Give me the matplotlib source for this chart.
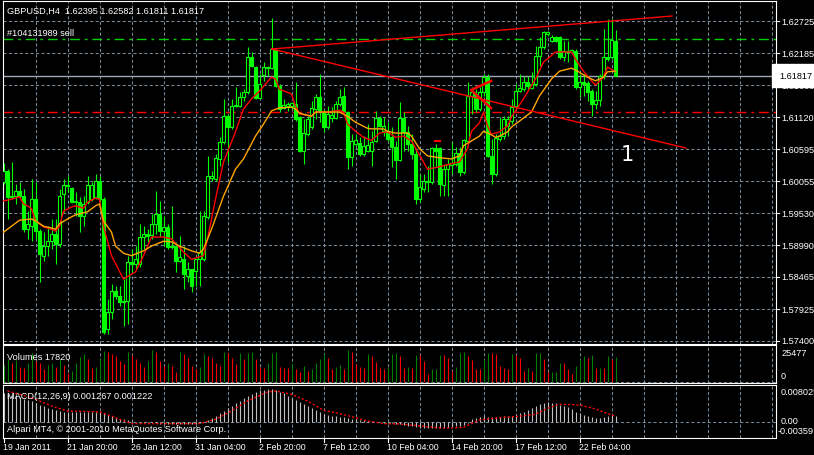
import numpy as np
import matplotlib
matplotlib.use('Agg')
import matplotlib.pyplot as plt
from matplotlib.transforms import blended_transform_factory as blend

W, H = 814, 456
plt.rcParams['font.family'] = ['Liberation Sans', 'DejaVu Sans']

# GBPUSD H4 candles, one per bar (bar 0 = 19 Jan 2011 04:00)
opens = [
    1.6005, 1.6023, 1.5980, 1.5981, 1.5990, 1.5981, 1.5926, 1.5931, 1.5976, 1.5923,
    1.5882, 1.5898, 1.5906, 1.5918, 1.5901, 1.5985, 1.6000, 1.5995, 1.5971, 1.5971,
    1.5948, 1.5971, 1.5976, 1.5980, 1.6006, 1.5976, 1.5760, 1.5788, 1.5823, 1.5815,
    1.5805, 1.5807, 1.5871, 1.5868, 1.5868, 1.5913, 1.5918, 1.5916, 1.5935, 1.5951,
    1.5923, 1.5930, 1.5898, 1.5898, 1.5873, 1.5876, 1.5848, 1.5860, 1.5857, 1.5876,
    1.5876, 1.5946, 1.6011, 1.6010, 1.6043, 1.6071, 1.6114, 1.6096, 1.6131, 1.6131,
    1.6146, 1.6154, 1.6213, 1.6196, 1.6144, 1.6183, 1.6194, 1.6194, 1.6224, 1.6164,
    1.6128, 1.6131, 1.6131, 1.6134, 1.6113, 1.6056, 1.6085, 1.6096, 1.6126, 1.6146,
    1.6121, 1.6096, 1.6111, 1.6111, 1.6134, 1.6148, 1.6121, 1.6046, 1.6068, 1.6069,
    1.6051, 1.6056, 1.6056, 1.6073, 1.6111, 1.6089, 1.6089, 1.6080, 1.6063, 1.6041,
    1.6111, 1.6088, 1.6068, 1.6051, 1.5976, 1.5993, 1.6006, 1.6005, 1.6061, 1.6061,
    1.6000, 1.6026, 1.6033, 1.6035, 1.6053, 1.6021, 1.6073, 1.6148, 1.6151, 1.6126,
    1.6154, 1.6179, 1.6048, 1.6018, 1.6076, 1.6081, 1.6098, 1.6106, 1.6131, 1.6156,
    1.6159, 1.6171, 1.6161, 1.6168, 1.6214, 1.6229, 1.6251, 1.6239, 1.6246, 1.6246,
    1.6213, 1.6223, 1.6221, 1.6223, 1.6163, 1.6171, 1.6169, 1.6156, 1.6134, 1.6141,
    1.6181, 1.6213, 1.6213, 1.62395]
highs = [
    1.6036, 1.6026, 1.6038, 1.6001, 1.6005, 1.5993, 1.5956, 1.6010, 1.6005, 1.5926,
    1.5921, 1.5931, 1.5943, 1.5943, 1.5993, 1.6010, 1.6015, 1.5996, 1.5988, 1.5980,
    1.5981, 1.6015, 1.6005, 1.6018, 1.6015, 1.5980, 1.5810, 1.5835, 1.5832, 1.5832,
    1.5843, 1.5882, 1.5893, 1.5898, 1.5935, 1.5931, 1.5926, 1.5951, 1.5990, 1.5973,
    1.5948, 1.5935, 1.5965, 1.5905, 1.5915, 1.5898, 1.5871, 1.5860, 1.5876, 1.5956,
    1.5956, 1.6048, 1.6023, 1.6051, 1.6080, 1.6143, 1.6118, 1.6143, 1.6163, 1.6154,
    1.6159, 1.6229, 1.6221, 1.6198, 1.6184, 1.6204, 1.6198, 1.6278, 1.6226, 1.6168,
    1.6143, 1.6138, 1.6138, 1.6171, 1.6114, 1.6109, 1.6114, 1.6139, 1.6151, 1.6184,
    1.6126, 1.6131, 1.6129, 1.6139, 1.6159, 1.6163, 1.6123, 1.6085, 1.6085, 1.6080,
    1.6081, 1.6101, 1.6089, 1.6123, 1.6114, 1.6113, 1.6104, 1.6096, 1.6073, 1.6138,
    1.6121, 1.6098, 1.6085, 1.6060, 1.6018, 1.6018, 1.6031, 1.6063, 1.6068, 1.6063,
    1.6035, 1.6043, 1.6071, 1.6063, 1.6063, 1.6076, 1.6171, 1.6163, 1.6159, 1.6163,
    1.6184, 1.6184, 1.6076, 1.6085, 1.6113, 1.6114, 1.6114, 1.6143, 1.6168, 1.6184,
    1.6181, 1.6181, 1.6188, 1.6231, 1.6246, 1.6256, 1.6256, 1.6249, 1.6248, 1.6248,
    1.6239, 1.6239, 1.6226, 1.6226, 1.6184, 1.6184, 1.6173, 1.6159, 1.6156, 1.6184,
    1.6259, 1.6276, 1.6276, 1.62582]
lows = [
    1.6001, 1.5943, 1.5976, 1.5968, 1.5976, 1.5921, 1.5910, 1.5906, 1.5910, 1.5838,
    1.5873, 1.5882, 1.5893, 1.5868, 1.5896, 1.5955, 1.5988, 1.5971, 1.5948, 1.5921,
    1.5931, 1.5968, 1.5973, 1.5976, 1.5971, 1.5752, 1.5752, 1.5777, 1.5810, 1.5798,
    1.5765, 1.5768, 1.5855, 1.5860, 1.5863, 1.5893, 1.5905, 1.5910, 1.5918, 1.5913,
    1.5898, 1.5893, 1.5893, 1.5855, 1.5871, 1.5827, 1.5838, 1.5822, 1.5832, 1.5832,
    1.5873, 1.5943, 1.6006, 1.6006, 1.6031, 1.6067, 1.6038, 1.6093, 1.6129, 1.6129,
    1.6139, 1.6151, 1.6196, 1.6143, 1.6143, 1.6173, 1.6181, 1.6193, 1.6163, 1.6121,
    1.6126, 1.6123, 1.6126, 1.6106, 1.6055, 1.6035, 1.6081, 1.6093, 1.6109, 1.6104,
    1.6088, 1.6093, 1.6104, 1.6109, 1.6131, 1.6121, 1.6026, 1.6031, 1.6065, 1.6048,
    1.6048, 1.6055, 1.6031, 1.6071, 1.6096, 1.6081, 1.6073, 1.6030, 1.6010, 1.6040,
    1.6056, 1.6056, 1.6043, 1.5968, 1.5971, 1.5988, 1.5988, 1.6001, 1.6030, 1.5981,
    1.5981, 1.5981, 1.6018, 1.6031, 1.6015, 1.6018, 1.6071, 1.6118, 1.6121, 1.6123,
    1.6148, 1.6046, 1.6001, 1.6015, 1.6073, 1.6076, 1.6081, 1.6101, 1.6126, 1.6154,
    1.6156, 1.6159, 1.6159, 1.6164, 1.6198, 1.6226, 1.6248, 1.6238, 1.6238, 1.6209,
    1.6206, 1.6204, 1.6218, 1.6159, 1.6146, 1.6148, 1.6139, 1.6114, 1.6126, 1.6131,
    1.6176, 1.6206, 1.6209, 1.61811]
closes = [
    1.6023, 1.5980, 1.5981, 1.5990, 1.5981, 1.5926, 1.5935, 1.5976, 1.5923, 1.5885,
    1.5898, 1.5906, 1.5918, 1.5901, 1.5981, 1.6000, 1.5998, 1.5971, 1.5973, 1.5948,
    1.5968, 1.6000, 1.6000, 1.6006, 1.5976, 1.5755, 1.5788, 1.5823, 1.5815, 1.5805,
    1.5807, 1.5871, 1.5868, 1.5876, 1.5913, 1.5918, 1.5915, 1.5935, 1.5951, 1.5923,
    1.5930, 1.5896, 1.5896, 1.5873, 1.5880, 1.5852, 1.5860, 1.5832, 1.5876, 1.5888,
    1.5948, 1.6015, 1.6015, 1.6045, 1.6071, 1.6114, 1.6096, 1.6131, 1.6133, 1.6146,
    1.6154, 1.6213, 1.6198, 1.6144, 1.6168, 1.6196, 1.6196, 1.6226, 1.6164, 1.6126,
    1.6133, 1.6134, 1.6136, 1.6109, 1.6056, 1.6086, 1.6109, 1.6128, 1.6146, 1.6121,
    1.6096, 1.6118, 1.6116, 1.6134, 1.6146, 1.6123, 1.6046, 1.6073, 1.6074, 1.6051,
    1.6065, 1.6066, 1.6071, 1.6111, 1.6098, 1.6098, 1.6076, 1.6063, 1.6041, 1.6111,
    1.6088, 1.6068, 1.6051, 1.5976, 1.5996, 1.6006, 1.6005, 1.6061, 1.6056, 1.6001,
    1.6026, 1.6035, 1.6036, 1.6053, 1.6021, 1.6074, 1.6148, 1.6154, 1.6126, 1.6154,
    1.6179, 1.6048, 1.6018, 1.6078, 1.6081, 1.6109, 1.6109, 1.6129, 1.6156, 1.6161,
    1.6171, 1.6164, 1.6168, 1.6214, 1.6229, 1.6254, 1.6254, 1.6246, 1.6239, 1.6213,
    1.6223, 1.6221, 1.6224, 1.6163, 1.6171, 1.6168, 1.6154, 1.6134, 1.6141, 1.6181,
    1.6213, 1.6209, 1.6241, 1.61817]

# moving averages (bar index, price)
red_ma_bars = [0, 2, 4, 5, 6, 7, 8, 10, 12, 13, 14, 15, 17, 18, 20, 21, 23, 24, 25, 27,
               30, 33, 35, 37, 40, 42, 45, 47, 50, 51, 53, 55, 58, 60, 62, 64, 67, 68, 69, 72,
               73, 74, 77, 78, 81, 84, 85, 86, 88, 90, 92, 94, 96, 98, 100, 102, 106, 109, 112, 114,
               116, 117, 119, 120, 121, 122, 124, 126, 127, 130, 133, 135, 138, 142, 143, 145, 147, 148, 150, 151,
               153]
red_ma = [1.5973, 1.5976, 1.5980, 1.5968, 1.5965, 1.5960, 1.5940, 1.5930, 1.5926, 1.5923,
          1.5931, 1.5956, 1.5963, 1.5965, 1.5961, 1.5971, 1.5978, 1.5976, 1.5931, 1.5882,
          1.5843, 1.5855, 1.5882, 1.5913, 1.5913, 1.5910, 1.5888, 1.5876, 1.5882, 1.5910,
          1.5976, 1.6038, 1.6088, 1.6126, 1.6143, 1.6156, 1.6179, 1.6176, 1.6159, 1.6151,
          1.6131, 1.6118, 1.6114, 1.6121, 1.6121, 1.6124, 1.6121, 1.6101, 1.6089, 1.6079,
          1.6074, 1.6086, 1.6088, 1.6079, 1.6081, 1.6073, 1.6026, 1.6030, 1.6035, 1.6038,
          1.6060, 1.6089, 1.6103, 1.6121, 1.6098, 1.6084, 1.6088, 1.6098, 1.6113, 1.6143,
          1.6176, 1.6204, 1.6221, 1.6221, 1.6209, 1.6189, 1.6173, 1.6166, 1.6179, 1.6196,
          1.6188]
orange_ma_bars = [0, 2, 4, 7, 8, 10, 12, 13, 14, 16, 18, 21, 23, 24, 25, 27, 28, 30, 32, 35,
                  37, 40, 42, 44, 47, 49, 50, 52, 55, 58, 60, 63, 65, 67, 69, 72, 73, 74, 77, 78,
                  81, 84, 86, 88, 91, 92, 95, 96, 98, 101, 102, 104, 106, 109, 112, 114, 115, 117, 119, 120,
                  122, 123, 124, 126, 127, 129, 132, 134, 137, 139, 142, 143, 146, 148, 150, 151, 153]
orange_ma = [1.5921, 1.5931, 1.5941, 1.5943, 1.5940, 1.5931, 1.5928, 1.5926, 1.5935, 1.5943,
             1.5950, 1.5955, 1.5965, 1.5968, 1.5940, 1.5921, 1.5898, 1.5886, 1.5882, 1.5890,
             1.5898, 1.5906, 1.5905, 1.5898, 1.5890, 1.5886, 1.5893, 1.5926, 1.5981, 1.6026,
             1.6043, 1.6081, 1.6101, 1.6123, 1.6128, 1.6129, 1.6126, 1.6119, 1.6114, 1.6121,
             1.6121, 1.6121, 1.6114, 1.6104, 1.6094, 1.6093, 1.6093, 1.6089, 1.6086, 1.6086,
             1.6081, 1.6060, 1.6048, 1.6045, 1.6043, 1.6048, 1.6065, 1.6073, 1.6081, 1.6089,
             1.6083, 1.6079, 1.6081, 1.6088, 1.6096, 1.6106, 1.6121, 1.6148, 1.6176, 1.6189,
             1.6194, 1.6191, 1.6179, 1.6173, 1.6179, 1.6188, 1.6189]

volumes = [
    11960, 16560, 13800, 15640, 10350, 9660, 13800, 20240, 14950, 13110,
    9200, 12190, 13800, 10350, 16560, 11960, 6440, 8050, 13800, 17940,
    19550, 16560, 9660, 10350, 17250, 21850, 21160, 19550, 18400, 14950,
    12650, 21160, 18860, 16560, 13800, 10350, 14950, 23000, 21160, 14950,
    11500, 13800, 11500, 6900, 21160, 19550, 17250, 11500, 9200, 10350,
    19550, 18400, 17250, 13800, 11500, 21160, 20240, 17250, 12650, 20700,
    16560, 20240, 21160, 16560, 10350, 9660, 13800, 20240, 21160, 10350,
    9660, 9600, 13800, 9200, 7360, 11500, 8050, 9200, 13800, 16560,
    19550, 17250, 9200, 10350, 11960, 9200, 22540, 21160, 12650, 10350,
    9660, 19550, 18400, 14260, 9660, 9200, 10350, 19550, 20700, 18400,
    9660, 10350, 9660, 18860, 18800, 14950, 5750, 9200, 9250, 18860,
    18800, 17250, 8050, 10350, 20240, 21160, 18400, 15640, 9200, 9150,
    16100, 20240, 20200, 19550, 11500, 9660, 9200, 19550, 18860, 17250,
    8050, 9660, 8050, 20240, 20300, 16100, 6900, 6950, 7360, 13800,
    13750, 9200, 5750, 11500, 16100, 18400, 17250, 18860, 9660, 9700,
    9650, 18400, 16560, 17820]

macd_hist = [
    6.2, 6.0, 5.8, 5.6, 5.4, 5.0, 4.8, 4.5, 4.0, 3.7,
    3.4, 3.0, 2.7, 2.5, 2.3, 2.2, 2.1, 2.1, 2.0, 2.0,
    2.0, 2.0, 2.0, 2.1, 2.1, 1.8, 1.5, 1.2, 0.9, 0.6,
    0.5, 0.3, 0.1, 0.0, -0.1, -0.2, -0.3, -0.4, -0.4, -0.5,
    -0.5, -0.6, -0.6, -0.6, -0.6, -0.6, -0.6, -0.6, -0.5, -0.3,
    0.0, 0.4, 0.9, 1.3, 1.8, 2.4, 2.9, 3.5, 4.0, 4.6,
    5.1, 5.6, 6.0, 6.5, 6.9, 7.0, 7.1, 7.1, 6.9, 6.6,
    6.2, 5.7, 5.2, 4.8, 4.4, 3.9, 3.4, 2.9, 2.5, 2.0,
    1.7, 1.5, 1.3, 1.2, 1.1, 1.0, 0.8, 0.6, 0.5, 0.4,
    0.3, 0.2, 0.1, 0.0, -0.1, -0.2, -0.3, -0.4, -0.5, -0.6,
    -0.8, -0.9, -1.0, -1.2, -1.4, -1.5, -1.5, -1.5, -1.5, -1.4,
    -1.4, -1.3, -1.2, -1.0, -0.9, -0.7, -0.4, 0.5, 0.9, 1.1,
    1.3, 1.1, 1.1, 1.1, 1.1, 1.2, 1.3, 1.3, 1.4, 1.8,
    2.2, 2.5, 2.9, 3.4, 3.9, 4.1, 4.2, 4.1, 4.0, 3.7,
    3.4, 3.1, 2.8, 2.2, 1.8, 1.5, 1.3, 1.0, 0.9, 0.9,
    1.1, 1.3, 1.4, 1.267]
signal_bars = [1, 7, 12, 16, 24, 27, 29, 32, 41, 49, 53, 57, 61, 66, 68, 72, 76, 80, 83, 87,
               91, 95, 99, 106, 110, 115, 119, 124, 128, 133, 136, 139, 144, 148, 152, 153]
signal = [6.72, 5.26, 3.43, 2.34, 2.12, 1.24, 0.51, -0.44, -0.44, -0.44,
          0.51, 2.34, 4.53, 6.50, 6.72, 5.99, 4.53, 2.48, 1.97, 1.10,
          0.15, -0.44, -0.51, -1.10, -1.46, -1.24, 0.37, 0.88, 1.10, 1.61,
          2.92, 3.80, 3.65, 2.77, 1.46, 1.222]

price_ticks = [1.62725, 1.62185, 1.61660, 1.61120, 1.60595, 1.60055,
               1.59530, 1.58990, 1.58465, 1.57925, 1.57400]
time_label_bars = [0, 16, 32, 48, 64, 80, 96, 112, 128, 144]
time_labels = ['19 Jan 2011', '21 Jan 20:00', '26 Jan 12:00', '31 Jan 04:00', '2 Feb 20:00',
               '7 Feb 12:00', '10 Feb 04:00', '14 Feb 20:00', '17 Feb 12:00', '22 Feb 04:00']

order_price = 1.62425
stop_price = 1.61211
bid = 1.61817
trend_up = ([67.1, 167.1], [1.62259, 1.62808])
trend_down = ([67.1, 170.6], [1.62259, 1.60612])

GRID = '#778899'
LIME = '#00FF00'
DASH = (0, (3, 2.2))
FS = 6.6


def box(x0, y0, x1, y1):
    return [x0 / W, 1 - y1 / H, (x1 - x0) / W, (y1 - y0) / H]


def ftext(x, y, s, **kw):
    kw.setdefault('color', 'white')
    kw.setdefault('fontsize', FS)
    fig.text(x / W, 1 - y / H, s, va='center', **kw)


fig = plt.figure(figsize=(W / 100, H / 100), dpi=100, facecolor='black')
ax = fig.add_axes(box(2.5, 2, 776, 345))
axv = fig.add_axes(box(2.5, 346, 776, 384))
axm = fig.add_axes(box(2.5, 386, 776, 439))

x_right = (776 - 3.5) / 4
for a in (ax, axv, axm):
    a.set_facecolor('black')
    a.set_xlim(-0.25, x_right)
    a.set_xticks([])
    a.set_yticks([])
    for s in a.spines.values():
        s.set_color('white')
        s.set_linewidth(0.8)
    for gx in range(8, int(x_right) + 1, 8):
        a.axvline(gx, color=GRID, lw=0.75, ls=DASH, zorder=0)

ax.set_ylim(1.57350, 1.63058)
axv.set_ylim(-700, 26200)
axm.set_ylim(-0.00359, 0.008025)

for p in price_ticks:
    ax.axhline(p, color=GRID, lw=0.75, ls=DASH, zorder=0)

# candles: hollow = up bar, filled = down bar
bars = np.arange(len(closes))
o, h, l, c = map(np.array, (opens, highs, lows, closes))
ax.vlines(bars, l, h, color=LIME, lw=0.8, zorder=3)
bull = c >= o
ax.bar(bars[bull], (c - o)[bull], bottom=o[bull], width=0.62, color='black',
       edgecolor=LIME, lw=0.8, zorder=4)
ax.bar(bars[~bull], (o - c)[~bull], bottom=c[~bull], width=0.62, color=LIME,
       edgecolor=LIME, lw=0.8, zorder=4)

ax.plot(red_ma_bars, red_ma, color='red', lw=1, zorder=5)
ax.plot(orange_ma_bars, orange_ma, color='orange', lw=1, zorder=5)

# order / stop / bid lines
ax.axhline(order_price, color='#00D000', lw=1, ls=(0, (7, 3.5, 2, 3.5)), zorder=2)
ax.axhline(stop_price, color='red', lw=1, ls=(0, (7, 3.5, 2, 3.5)), zorder=2)
ax.axhline(bid, color='#A0A8B8', lw=1, zorder=2)

ax.plot(*trend_up, color='red', lw=1, zorder=6)
ax.plot(*trend_down, color='red', lw=1, zorder=6)
ax.plot([121.9, 116.9, 121.9], [1.61727, 1.61577, 1.61277], color='red', lw=1.8, zorder=6)
ax.plot([107.9, 109.1], [1.60733, 1.60733], color='red', lw=1.5, zorder=6)

ax.text(156, 1.6052, '1', color='white', fontsize=15, ha='center', va='center',
        family='DejaVu Sans')

# right price scale
tr = blend(fig.transFigure, ax.transData)
for p in price_ticks:
    fig.text(781 / W, p, f'{p:.5f}', transform=tr, color='white', fontsize=FS, va='center')
    ax.plot([1.0, 1.004], [p, p], transform=blend(ax.transAxes, ax.transData),
            color='white', lw=0.8, clip_on=False)
fig.text(779.5 / W, bid, f'{bid:.5f}', transform=tr, color='black', fontsize=FS, va='center',
         bbox=dict(facecolor='white', edgecolor='white', pad=0.8, boxstyle='square'))

ftext(7, 11, 'GBPUSD,H4  1.62395 1.62582 1.61811 1.61817')
ftext(7, 34, '#104131989 sell')

# volumes: green when larger than the previous bar
vcol = ['#008000' if i == 0 or volumes[i] > volumes[i - 1] else '#FF0000' for i in bars]
axv.vlines(bars, 0, volumes, colors=vcol, lw=0.8)
axv.axhline(0, color=GRID, lw=0.75, ls=DASH, zorder=0)
ftext(7, 357, 'Volumes 17820')
ftext(781, 353, '25477')
ftext(781, 377, '0')

# MACD
axm.vlines(bars, 0, np.array(macd_hist) / 1000, colors='#C0C0C0', lw=0.8)
axm.plot(signal_bars, np.array(signal) / 1000, color='red', lw=1, ls=(0, (1.5, 1.5)))
axm.axhline(0, color=GRID, lw=0.75, ls=DASH, zorder=0)
ftext(7, 397, 'MACD(12,26,9) 0.001267 0.001222')
ftext(7, 430, 'Alpari MT4, \u00a9 2001-2010 MetaQuotes Software Corp.')
ftext(781, 393, '0.008025')
ftext(781, 422, '0.00')
ftext(778, 432, '-0.00359')

# time axis
trx = blend(axm.transData, fig.transFigure)
for b, lab in zip(time_label_bars, time_labels):
    axm.plot([b, b], [1 - 439 / H, 1 - 443 / H], transform=trx, color='white', lw=0.8,
             clip_on=False)
    axm.text(b - 0.1, 1 - 448 / H, lab, transform=trx, color='white', fontsize=6.3,
             va='center', ha='left')

fig.savefig('out.png', dpi=100, facecolor='black')
